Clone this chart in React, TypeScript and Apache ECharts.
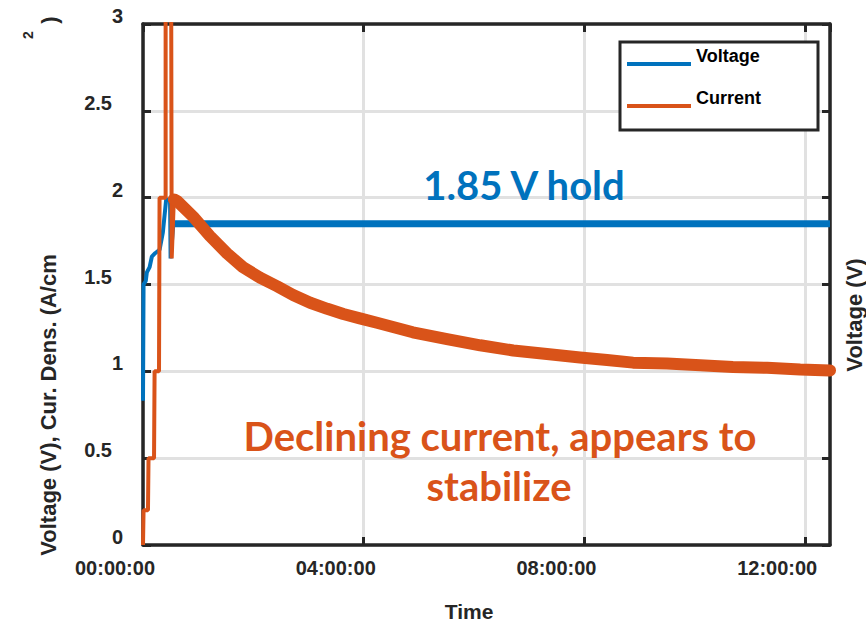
import React, { useEffect, useRef } from "react";
import * as echarts from "echarts";

// ---- data (time in hours, values in V or A/cm²) ----
const voltageRampTime = [0, 0.01, 0.05, 0.07, 0.12, 0.16, 0.22, 0.3, 0.36, 0.42, 0.49, 0.5, 0.55];
const voltageRampValues = [0.83, 1.5, 1.52, 1.57, 1.6, 1.66, 1.68, 1.7, 1.8, 1.99, 1.99, 1.65, 1.85];
const voltageHoldTime = [0.55, 2, 4, 6, 8, 10, 12, 12.45];
const voltageHoldValues = [1.85, 1.85, 1.85, 1.85, 1.85, 1.85, 1.85, 1.85];

const currentStepTime = [0, 0.01, 0.09, 0.1, 0.2, 0.21, 0.29, 0.3, 0.41, 0.41, 0.51, 0.52, 0.56];
const currentStepValues = [0, 0.2, 0.2, 0.5, 0.5, 1.0, 1.0, 2.0, 2.0, 3.3, 3.3, 1.65, 2.0];
const currentDecayTime = [
  0.56, 0.62, 0.91, 1.21, 1.52, 1.81, 2.12, 2.43, 2.72, 3.03, 3.34, 3.63, 3.93, 4.24, 4.89, 5.51,
  6.11, 6.71, 7.32, 7.92, 8.41, 8.88, 9.5, 10.1, 10.69, 11.31, 11.91, 12.45,
];
const currentDecayValues = [
  1.99, 1.98, 1.89, 1.78, 1.68, 1.6, 1.54, 1.49, 1.44, 1.395, 1.36, 1.33, 1.305, 1.28, 1.225, 1.185,
  1.15, 1.12, 1.1, 1.08, 1.065, 1.05, 1.045, 1.035, 1.025, 1.02, 1.01, 1.005,
];

const xTickHours = [0, 4, 8, 12];
const xMax = 12.45;
const yTicks = [0, 0.5, 1, 1.5, 2, 2.5, 3];

const BLUE = "#0072BD";
const ORANGE = "#D95319";
const AXIS = "#262626";
const GRID = "#e1e1e1";
const FONT = '"Liberation Sans", Arial, Helvetica, sans-serif';
const ANNOT_FONT = 'Lato, "Open Sans", sans-serif';

const zip = (t: number[], v: number[]) => t.map((x, i) => [x, v[i]]);

export default function App() {
  const ref = useRef<HTMLDivElement>(null);
  useEffect(() => {
    if (!ref.current) return;
    const chart = echarts.init(ref.current, undefined, { renderer: "svg" });

    const tickLabelRich = {
      a: { fontSize: 20, fontWeight: "bold", fontFamily: FONT, color: AXIS, padding: [0, 0, 16, 0] },
      b: { fontSize: 20, fontWeight: "bold", fontFamily: FONT, color: AXIS, padding: [0, 11, 16, 0] },
      x: { fontSize: 20, fontWeight: "bold", fontFamily: FONT, color: AXIS, padding: [0, 56, 0, 0] },
    };

    const axisLine = { show: true, onZero: false, lineStyle: { color: AXIS, width: 3.5 } };
    const axisTick = { show: true, inside: true, length: 8, lineStyle: { color: AXIS, width: 3 } };

    const txt = (
      text: string,
      x: number,
      y: number,
      font: string,
      fill: string,
      rotated = false
    ) => ({
      type: "text",
      x,
      y,
      z: 100,
      rotation: rotated ? Math.PI / 2 : 0,
      style: { text, font, fill, align: "center", verticalAlign: "middle" },
    });

    const option: any = {
      animation: false,
      backgroundColor: "#fff",
      grid: { left: 143, right: 36, top: 24, bottom: 80, containLabel: false },
      xAxis: [
        {
          type: "value",
          position: "bottom",
          min: 0,
          max: xMax,
          interval: 4,
          axisLine,
          axisTick,
          axisLabel: {
            margin: 13,
            showMaxLabel: false,
            rich: tickLabelRich,
            formatter: (v: number) =>
              xTickHours.includes(v) ? `{x|${String(v).padStart(2, "0")}:00:00}` : "",
          },
          splitLine: { show: true, lineStyle: { color: GRID, width: 3 } },
        },
        {
          type: "value",
          position: "top",
          min: 0,
          max: xMax,
          interval: 4,
          axisLine,
          axisTick,
          axisLabel: { show: false },
          splitLine: { show: false },
        },
      ],
      yAxis: [
        {
          type: "value",
          position: "left",
          min: yTicks[0],
          max: yTicks[yTicks.length - 1],
          interval: 0.5,
          axisLine,
          axisTick,
          axisLabel: {
            margin: 20,
            rich: tickLabelRich,
            formatter: (v: number) => (Number.isInteger(v) ? `{a|${v}}` : `{b|${v}}`),
          },
          splitLine: { show: true, lineStyle: { color: GRID, width: 3 } },
        },
        {
          type: "value",
          position: "right",
          min: yTicks[0],
          max: yTicks[yTicks.length - 1],
          interval: 0.5,
          axisLine,
          axisTick,
          axisLabel: { show: false },
          splitLine: { show: false },
        },
      ],
      legend: {
        orient: "vertical",
        left: 620,
        top: 42,
        padding: [5, 57, 7, 7],
        itemGap: 8,
        itemWidth: 64,
        itemHeight: 4,
        borderColor: AXIS,
        borderWidth: 3,
        backgroundColor: "#fff",
        data: [
          { name: "Voltage", icon: "rect" },
          { name: "Current", icon: "rect" },
        ],
        formatter: (name: string) => `${name}\n `,
        textStyle: { fontSize: 18, fontWeight: "bold", fontFamily: FONT, color: "#000", lineHeight: 16 },
      },
      series: [
        {
          name: "Voltage",
          type: "line",
          data: zip(voltageRampTime, voltageRampValues),
          symbol: "none",
          lineStyle: { color: BLUE, width: 4 },
          itemStyle: { color: BLUE },
        },
        {
          name: "Voltage",
          type: "line",
          data: zip(voltageHoldTime, voltageHoldValues),
          symbol: "none",
          lineStyle: { color: BLUE, width: 7 },
          itemStyle: { color: BLUE },
        },
        {
          name: "Current",
          type: "line",
          data: zip(currentStepTime, currentStepValues),
          symbol: "none",
          lineStyle: { color: ORANGE, width: 4 },
          itemStyle: { color: ORANGE },
        },
        {
          name: "Current",
          type: "line",
          data: zip(currentDecayTime, currentDecayValues),
          symbol: "none",
          lineStyle: { color: ORANGE, width: 12, cap: "round", join: "round" },
          itemStyle: { color: ORANGE },
        },
      ],
      graphic: [
        txt("Voltage (V), Cur. Dens. (A/cm", 48, 405, `bold 22px ${FONT}`, AXIS, true),
        txt("2", 28, 35, `bold 14px ${FONT}`, AXIS, true),
        txt(")", 49, 20, `bold 22px ${FONT}`, AXIS, true),
        txt("Voltage (V)", 854, 315, `bold 22px ${FONT}`, AXIS, true),
        txt("Time", 469, 611, `bold 21px ${FONT}`, AXIS),
        txt("1.85 V hold", 524, 185, `bold 40px ${ANNOT_FONT}`, BLUE),
        txt("Declining current, appears to", 500, 436, `bold 40px ${ANNOT_FONT}`, ORANGE),
        txt("stabilize", 499, 486, `bold 40px ${ANNOT_FONT}`, ORANGE),
      ],
    };
    chart.setOption(option);
    return () => chart.dispose();
  }, []);
  return (
    <div
      ref={ref}
      style={{ position: "fixed", left: 0, top: 0, width: 866, height: 625, background: "#fff" }}
    />
  );
}
